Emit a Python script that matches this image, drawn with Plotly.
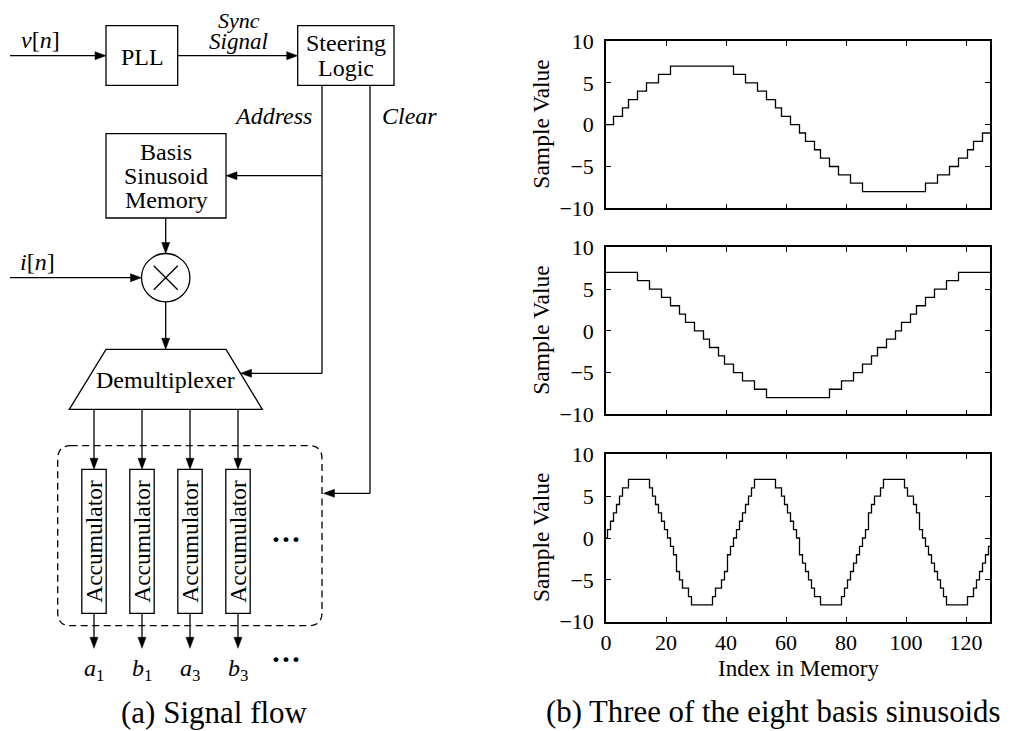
import plotly.graph_objects as go

# ---------------- data ----------------
index_in_memory = list(range(129))

basis_sin_k1 = [
    0, 0, 0, 1, 1, 1, 2, 2, 3, 3, 3, 4, 4, 4, 5, 5, 5, 5, 6, 6, 6, 6,
    7, 7, 7, 7, 7, 7, 7, 7, 7, 7, 7, 7, 7, 7, 7, 7, 7, 7, 7, 7, 7,
    6, 6, 6, 6, 5, 5, 5, 5, 4, 4, 4, 3, 3, 3, 2, 2, 1, 1, 1, 0, 0, 0,
    -1, -1, -2, -2, -2, -3, -3, -4, -4, -4, -5, -5, -5, -6, -6, -6, -6, -7, -7, -7, -7,
    -8, -8, -8, -8, -8, -8, -8, -8, -8, -8, -8, -8, -8, -8, -8, -8, -8, -8, -8, -8, -8,
    -7, -7, -7, -7, -6, -6, -6, -6, -5, -5, -5, -4, -4, -4, -3, -3, -2, -2, -2, -1, -1, -1,
]

basis_cos_k1 = [
    7, 7, 7, 7, 7, 7, 7, 7, 7, 7, 7,
    6, 6, 6, 6, 5, 5, 5, 5, 4, 4, 4, 3, 3, 3, 2, 2, 1, 1, 1, 0, 0, 0,
    -1, -1, -2, -2, -2, -3, -3, -4, -4, -4, -5, -5, -5, -6, -6, -6, -6, -7, -7, -7, -7,
    -8, -8, -8, -8, -8, -8, -8, -8, -8, -8, -8, -8, -8, -8, -8, -8, -8, -8, -8, -8, -8,
    -7, -7, -7, -7, -6, -6, -6, -6, -5, -5, -5, -4, -4, -4, -3, -3, -2, -2, -2, -1, -1, -1,
    0, 0, 1, 1, 1, 2, 2, 3, 3, 3, 4, 4, 4, 5, 5, 5, 5, 6, 6, 6, 6,
    7, 7, 7, 7, 7, 7, 7, 7, 7, 7, 7,
]

basis_sin_k3 = [
    0, 1, 2, 3, 4, 5, 6, 6, 7, 7, 7, 7, 7, 7, 7, 6, 5, 4, 3, 2, 1, 0,
    -1, -2, -4, -5, -6, -6, -7, -8, -8, -8, -8, -8, -8, -8, -7, -6, -6, -5, -4, -2, -1,
    0, 1, 2, 3, 4, 5, 6, 7, 7, 7, 7, 7, 7, 7, 6, 6, 5, 4, 3, 2, 1, 0,
    -2, -3, -4, -5, -6, -7, -7, -8, -8, -8, -8, -8, -8, -8, -7, -6, -5, -4, -3, -2, -1,
    0, 1, 3, 4, 5, 5, 6, 7, 7, 7, 7, 7, 7, 7, 6, 5, 5, 4, 3, 1, 0,
    -1, -2, -3, -4, -5, -6, -7, -8, -8, -8, -8, -8, -8, -8, -7, -7, -6, -5, -4, -3, -2, -1,
]

x_tick_values = [0, 20, 40, 60, 80, 100, 120]
y_tick_values = [-10, -5, 0, 5, 10]
y_axis_title = "Sample Value"
x_axis_title = "Index in Memory"
caption_a = "(a) Signal flow"
caption_b = "(b) Three of the eight basis sinusoids"
output_labels = ["<i>a</i><sub>1</sub>", "<i>b</i><sub>1</sub>",
                 "<i>a</i><sub>3</sub>", "<i>b</i><sub>3</sub>"]

assert len(basis_sin_k1) == len(basis_cos_k1) == len(basis_sin_k3) == len(index_in_memory)

# ---------------- figure ----------------
# The page body has an 8px margin, so the figure is drawn 8px smaller and all
# layout positions below are given in window pixels (offset OFF).
OFF = 8
WIN_W, WIN_H = 1011, 731
W, H = WIN_W - OFF, WIN_H - OFF
FONT = "'Liberation Serif', 'Times New Roman', Times, 'DejaVu Serif', serif"
fig = go.Figure()


def fx(px):
    return (px - OFF) / W


def fy(py):
    return 1 - (py - OFF) / H


plot_x = (606, 990)
plot_y = [(41, 208.3), (247.3, 414.3), (454.3, 621.7)]
series = [basis_sin_k1, basis_cos_k1, basis_sin_k3]

layout = dict(
    template="none",
    width=W, height=H, margin=dict(l=0, r=0, t=0, b=0, pad=0, autoexpand=False),
    paper_bgcolor="white", plot_bgcolor="rgba(0,0,0,0)",
    showlegend=False, font=dict(family=FONT, size=22, color="black"),
)

for i, (vals, (ytop, ybot)) in enumerate(zip(series, plot_y), start=1):
    sx = "" if i == 1 else str(i)
    fig.add_trace(go.Scatter(
        x=index_in_memory, y=vals, mode="lines",
        line=dict(color="black", width=1.3, shape="hvh"),
        xaxis="x" + sx, yaxis="y" + sx, hoverinfo="skip"))
    axcommon = dict(showline=True, linecolor="black", linewidth=1.6, mirror="ticks",
                    ticks="inside", ticklen=5, tickwidth=1.2, tickcolor="black",
                    showgrid=False, zeroline=False, fixedrange=True, automargin=False,
                    tickfont=dict(family=FONT, size=22, color="black"))
    layout["xaxis" + sx] = dict(
        axcommon, domain=[fx(plot_x[0]), fx(plot_x[1])], range=[0, 128],
        tickmode="array", tickvals=x_tick_values, anchor="y" + sx,
        showticklabels=(i == 3), ticklabelstandoff=0)
    layout["yaxis" + sx] = dict(
        axcommon, domain=[fy(ybot), fy(ytop)], range=[-10, 10],
        tickmode="array", tickvals=y_tick_values, anchor="x" + sx,
        ticklabelstandoff=6)

# hidden pixel-space axis (window pixels) for the block diagram and free text
fig.add_trace(go.Scatter(x=[], y=[], xaxis="x4", yaxis="y4", mode="lines", hoverinfo="skip"))
layout["xaxis4"] = dict(domain=[0, 1], range=[OFF, WIN_W], visible=False, fixedrange=True,
                        anchor="y4", automargin=False)
layout["yaxis4"] = dict(domain=[0, 1], range=[WIN_H, OFF], visible=False, fixedrange=True,
                        anchor="x4", automargin=False)

shapes = []
annotations = []
LW = 1.3
LC = "black"


def line(x0, y0, x1, y1, dash=None):
    shapes.append(dict(type="line", xref="x4", yref="y4", x0=x0, y0=y0, x1=x1, y1=y1,
                       line=dict(color=LC, width=LW, dash=dash) if dash else dict(color=LC, width=LW)))


def rect(x0, y0, x1, y1):
    shapes.append(dict(type="rect", xref="x4", yref="y4", x0=x0, y0=y0, x1=x1, y1=y1,
                       line=dict(color=LC, width=LW), fillcolor="rgba(0,0,0,0)"))


def path(d, fill=None, dash=None):
    ln = dict(color=LC, width=LW)
    if dash:
        ln["dash"] = dash
    shapes.append(dict(type="path", xref="x4", yref="y4", path=d, line=ln,
                       fillcolor=fill if fill else "rgba(0,0,0,0)"))


def head(tx, ty, direction, L=11, hw=4):
    dx, dy = {"r": (1, 0), "l": (-1, 0), "d": (0, 1), "u": (0, -1)}[direction]
    bx, by = tx - L * dx, ty - L * dy
    px, py = -dy, dx
    d = (f"M {tx},{ty} L {bx + hw * px},{by + hw * py} "
         f"L {bx - hw * px},{by - hw * py} Z")
    shapes.append(dict(type="path", xref="x4", yref="y4", path=d,
                       line=dict(color=LC, width=0.5), fillcolor=LC))


def arrow(x0, y0, x1, y1):
    if y0 == y1:
        direction = "r" if x1 > x0 else "l"
        xe = x1 - 6 if direction == "r" else x1 + 6
        line(x0, y0, xe, y1)
    else:
        direction = "d" if y1 > y0 else "u"
        ye = y1 - 6 if direction == "d" else y1 + 6
        line(x0, y0, x1, ye)
    head(x1, y1, direction)


def text(x, y, s, size=24, angle=0, family=FONT, xanchor="center"):
    annotations.append(dict(xref="x4", yref="y4", x=x, y=y, text=s, showarrow=False,
                            xanchor=xanchor, yanchor="middle", textangle=angle,
                            font=dict(family=family, size=size, color="black")))


# input v[n] -> PLL -> Steering Logic
arrow(10, 55.7, 106, 55.7)
rect(106, 25.7, 177.7, 85.3)
arrow(177.7, 55.7, 297.7, 55.7)
rect(297.7, 25.7, 394, 85.3)

# Address line
line(322, 85.3, 322, 373.3)
arrow(322, 175.7, 226, 175.7)
arrow(322, 373.3, 240.5, 373.3)

# Clear line
line(370, 85.3, 370, 493.3)
arrow(370, 493.3, 323.5, 493.3)

# Basis Sinusoid Memory
rect(106, 133.7, 226, 218)
arrow(165.7, 218, 165.7, 253.5)

# multiplier
cx, cy, r = 165.7, 277.7, 24.2
shapes.append(dict(type="circle", xref="x4", yref="y4", x0=cx - r, y0=cy - r, x1=cx + r, y1=cy + r,
                   line=dict(color=LC, width=LW)))
line(cx - 12, cy - 12, cx + 12, cy + 12)
line(cx - 12, cy + 12, cx + 12, cy - 12)
arrow(10, 277.7, cx - r, 277.7)
arrow(165.7, cy + r, 165.7, 349.3)

# demultiplexer
path("M 106,349.3 L 226,349.3 L 262.3,409.3 L 69.3,409.3 Z")

# accumulators
acc_x = [94, 142, 190, 238]
for ax_ in acc_x:
    arrow(ax_, 409.3, ax_, 469.3)
    rect(ax_ - 12.2, 469.3, ax_ + 12.2, 613.3)
    arrow(ax_, 613.3, ax_, 648.3)
    text(ax_ + 0.5, 541.3, "Accumulator", size=23.5, angle=-90)

# dashed rounded box
x0, y0, x1, y1, rr = 57.7, 445.7, 322, 625.7, 13
path(f"M {x0 + rr},{y0} L {x1 - rr},{y0} Q {x1},{y0} {x1},{y0 + rr} "
     f"L {x1},{y1 - rr} Q {x1},{y1} {x1 - rr},{y1} L {x0 + rr},{y1} "
     f"Q {x0},{y1} {x0},{y1 - rr} L {x0},{y0 + rr} Q {x0},{y0} {x0 + rr},{y0} Z",
     dash="7px,4.5px")

# diagram text
text(40, 40, "<i>v</i>[<i>n</i>]")
text(142, 57, "PLL")
text(239, 20, "<i>Sync</i>", size=22)
text(238, 41, "<i>Signal</i>", size=23)
text(346, 43, "Steering")
text(346, 68, "Logic")
text(272.5, 116, "<i>Address</i>")
text(409, 116, "<i>Clear</i>")
text(166, 151.7, "Basis")
text(166, 175.7, "Sinusoid")
text(166, 200, "Memory")
text(37.5, 262, "<i>i</i>[<i>n</i>]")
text(165.8, 380, "Demultiplexer")
for ax_, lab in zip(acc_x, output_labels):
    text(ax_, 670, lab, size=24)
text(286, 538, "<b>···</b>", size=30)
text(286, 658, "<b>···</b>", size=30)

# plot text
for (ytop, ybot) in plot_y:
    text(541, (ytop + ybot) / 2, y_axis_title, size=23.5, angle=-90)
text(798, 668, x_axis_title, size=23)

# captions
text(214, 712, caption_a, size=31)
text(773, 712, caption_b, size=30.8)

layout["shapes"] = shapes
layout["annotations"] = annotations
fig.update_layout(**layout)
fig.write_html("out.html")
